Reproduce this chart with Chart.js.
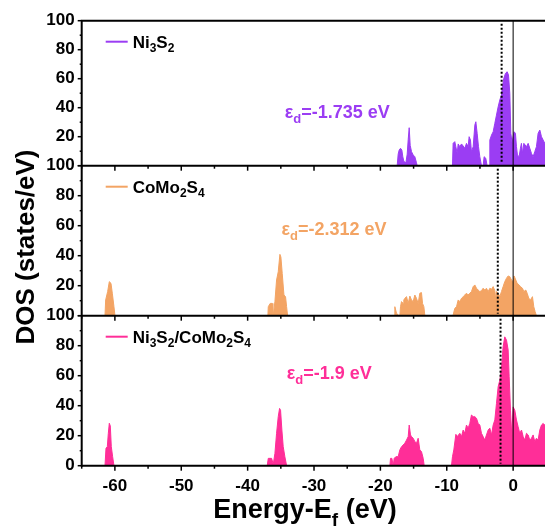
<!DOCTYPE html>
<html>
<head>
<meta charset="utf-8">
<script src="https://cdn.jsdelivr.net/npm/chart.js@4.4.1/dist/chart.umd.min.js"></script>
<style>
  html, body { margin: 0; padding: 0; background: #fff; overflow: hidden; }
  canvas { display: block; }
</style>
</head>
<body>
<canvas id="dos" width="545" height="527"></canvas>
<script>
// ---- data: d-band density of states (states/eV) vs. E - Ef (eV) ----
const seriesNames = ['Ni_3S_2', 'CoMo_2S_4', 'Ni_3S_2/CoMo_2S_4'];
const seriesColors = ['#9b3df3', '#f3a464', '#ff2e98'];
const dBandCenters = [-1.735, -2.312, -1.9];
const dBandLabels = ['ε_d=-1.735 eV', 'ε_d=-2.312 eV', 'ε_d=-1.9 eV'];

const xTickValues = [-60, -50, -40, -30, -20, -10, 0];
const yTickValues = [0, 20, 40, 60, 80, 100];

const ni3s2Energy = [
  -17.47, -17.32, -17.17, -16.97, -16.77, -16.62, -16.47, -16.16, -15.96, -15.81,
  -15.66, -15.51, -15.31, -15.06, -14.81, -14.56, -14.46,
  -9.14, -9.04, -8.79, -8.63, -8.43, -8.28, -8.03, -7.78, -7.53, -7.28,
  -7.03, -6.78, -6.63, -6.43, -6.28, -6.02, -5.77, -5.62, -5.42, -5.22,
  -5.02, -4.77, -4.52, -4.37, -4.12, -3.92,
  -3.61, -3.51, -3.26, -3.01, -2.76, -2.51, -2.26, -2.01, -1.76, -1.61,
  -1.41, -1.15, -0.90, -0.70, -0.50, -0.35, -0.15, 0.00, 0.15, 0.35,
  0.50, 0.65, 0.90, 1.10, 1.25, 1.41, 1.61, 1.81, 2.01, 2.26,
  2.51, 2.76, 3.01, 3.26, 3.51, 3.76, 4.02, 4.27, 4.52, 4.77, 5.00
];
const ni3s2Dos = [
  0, 8, 10.8, 12, 10.8, 6.2, 3, 2, 8, 18,
  26.2, 14, 9.7, 7.4, 6.2, 2, 0,
  0, 15.4, 16.6, 13.1, 8.5, 15.0, 13.1, 15.0, 13.6, 12.0,
  15.4, 13.1, 20.0, 17.7, 9.7, 13.1, 28.0, 30.3, 22.3, 13.1,
  6.2, 0, 0, 6.2, 5.1, 0,
  0, 17.7, 21.1, 23.4, 29.2, 34.9, 40.6, 45.3, 48.7, 54.5,
  60.2, 63.7, 64.8, 62.6, 49.9, 22.3, 15.4, 20.0, 23.4, 22.3,
  13.1, 7.4, 6.2, 12.0, 15.4, 8.5, 15.4, 14.3, 13.1, 15.4,
  12.0, 8.5, 6.2, 9.7, 13.1, 22.3, 24.6, 20.0, 17.7, 15.4, 14.0
];

const como2s4Energy = [
  -61.49, -61.39, -61.09, -60.84, -60.59, -60.39, -60.14, -59.99,
  -36.95, -36.89, -36.60, -36.29, -36.20, -36.14, -35.89, -35.64, -35.39, -35.14,
  -34.99, -34.79, -34.53, -34.29, -34.13, -33.98,
  -17.90, -17.82, -17.57, -17.20, -17.07, -16.97, -16.82, -16.57, -16.47, -16.32,
  -16.06, -15.81, -15.56, -15.31, -15.06, -14.81, -14.56, -14.31, -14.06, -13.81,
  -13.65, -13.45, -13.30,
  -9.10, -9.04, -8.79, -8.53, -8.28, -8.03, -7.78, -7.53, -7.28, -7.03,
  -6.78, -6.53, -6.28, -6.02, -5.77, -5.52, -5.27, -5.02, -4.77, -4.52,
  -4.27, -4.02, -3.76, -3.51, -3.26, -3.01, -2.76, -2.61, -2.51, -2.26,
  -2.01, -1.76, -1.51, -1.26, -1.00, -0.75, -0.50, -0.25, 0.00, 0.15,
  0.40, 0.60, 0.90, 1.10, 1.41, 1.61, 1.91, 2.11, 2.36, 2.61,
  2.91, 3.11, 3.31, 3.51
];
const como2s4Dos = [
  0, 10.5, 16.1, 22.7, 21.6, 15.0, 6.0, 0,
  0, 6.0, 8.2, 8.2, 0, 0, 9.4, 23.8, 29.3, 40.9,
  39.1, 28.2, 13.8, 12.7, 6.0, 0,
  0, 6.0, 1.6, 0, 0, 6.0, 9.4, 8.2, 10.5, 11.6,
  12.7, 8.2, 13.1, 10.5, 9.4, 13.8, 11.6, 8.2, 15.0, 15.4,
  8.2, 6.0, 0,
  0, 0.5, 4.9, 6.0, 10.5, 9.4, 11.6, 12.7, 13.8, 15.0,
  13.8, 15.0, 16.1, 19.4, 20.5, 18.3, 17.1, 16.1, 16.7, 18.3,
  17.1, 18.3, 16.1, 18.3, 17.6, 19.4, 16.7, 10.5, 16.1, 15.0,
  12.7, 16.1, 19.4, 22.7, 25.0, 26.5, 26.0, 23.8, 22.7, 26.5,
  23.8, 21.6, 20.5, 19.4, 18.3, 16.1, 17.1, 15.0, 11.6, 10.5,
  12.7, 6.0, 2.7, 0
];

const heteroEnergy = [
  -61.49, -61.34, -61.14, -60.99, -60.84, -60.69, -60.54, -60.34, -60.14,
  -37.05, -36.89, -36.39, -36.14, -35.89, -35.64, -35.39, -35.19, -35.04, -34.84,
  -34.64, -34.39, -34.13,
  -18.57, -18.47, -18.27, -18.07, -17.92, -17.67, -17.32, -17.07, -16.82, -16.57,
  -16.32, -16.06, -15.81, -15.66, -15.46, -15.31, -15.06, -14.81, -14.56, -14.31,
  -14.06, -13.81, -13.55, -13.40,
  -9.29, -9.14, -8.94, -8.63, -8.43, -8.23, -8.03, -7.78, -7.53, -7.28,
  -7.03, -6.78, -6.53, -6.28, -6.02, -5.77, -5.52, -5.27, -5.02, -4.77,
  -4.52, -4.27, -4.02, -3.76, -3.51, -3.26, -3.01, -2.76, -2.51, -2.26,
  -2.01, -1.76, -1.51, -1.26, -1.00, -0.75, -0.60, -0.40, -0.20, 0.00,
  0.25, 0.50, 0.75, 1.00, 1.26, 1.51, 1.76, 2.01, 2.26, 2.51,
  2.76, 3.01, 3.26, 3.51, 3.76, 4.02, 4.27, 4.52, 4.77, 5.00
];
const heteroDos = [
  0, 11.6, 12.7, 21.6, 28.3, 26.5, 12.7, 6.0, 0,
  0, 4.9, 4.9, 1.0, 8.2, 21.6, 32.7, 38.2, 37.0, 23.8,
  12.7, 6.0, 0,
  0, 4.9, 4.9, 0, 4.9, 6.0, 6.0, 10.5, 12.7, 13.8,
  15.0, 17.1, 19.4, 27.1, 20.5, 19.4, 18.3, 16.1, 15.0, 18.3,
  10.5, 9.4, 4.9, 0,
  0, 6.0, 10.5, 20.9, 19.4, 20.5, 21.6, 19.4, 23.8, 21.6,
  27.1, 25.0, 28.2, 33.8, 32.7, 32.7, 31.6, 28.2, 27.1, 21.6,
  19.4, 17.1, 20.5, 23.8, 25.0, 20.5, 27.1, 30.5, 41.5, 52.6,
  57.0, 64.9, 79.3, 85.9, 83.7, 77.1, 59.3, 37.0, 19.4, 39.2,
  37.0, 30.5, 26.0, 21.6, 23.8, 19.4, 17.1, 21.6, 20.5, 17.1,
  18.3, 20.5, 16.1, 18.3, 17.1, 23.8, 27.1, 28.2, 27.1, 25.0
];

// ---- chart construction ----
const FONT = '"Liberation Sans", Arial, Helvetica, sans-serif';
const panelAxes = ['yTop', 'yMid', 'yBot'];
const energies = [ni3s2Energy, como2s4Energy, heteroEnergy];
const dosValues = [ni3s2Dos, como2s4Dos, heteroDos];

function toPoints(xs, ys) {
  return xs.map((x, i) => ({ x: x, y: ys[i] }));
}

// draws text where "_c" puts character c as a subscript
function drawRich(ctx, text, x, y, size, color, align) {
  const parts = [];
  for (let i = 0; i < text.length; i++) {
    if (text[i] === '_') { parts.push({ t: text[i + 1], sub: true }); i++; }
    else if (parts.length && !parts[parts.length - 1].sub) parts[parts.length - 1].t += text[i];
    else parts.push({ t: text[i], sub: false });
  }
  const subSize = Math.round(size * 0.7);
  let total = 0;
  parts.forEach(p => {
    ctx.font = 'bold ' + (p.sub ? subSize : size) + 'px ' + FONT;
    p.w = ctx.measureText(p.t).width;
    total += p.w;
  });
  let cx = align === 'center' ? x - total / 2 : x;
  ctx.fillStyle = color;
  ctx.textAlign = 'left';
  ctx.textBaseline = 'alphabetic';
  parts.forEach(p => {
    ctx.font = 'bold ' + (p.sub ? subSize : size) + 'px ' + FONT;
    ctx.fillText(p.t, cx, p.sub ? y + size * 0.28 : y);
    cx += p.w;
  });
}

const panelDecor = {
  id: 'panelDecor',
  afterDatasetsDraw(chart) {
    const { ctx, chartArea } = chart;
    const xs = chart.scales.x;
    const left = chartArea.left, right = chartArea.right;
    ctx.save();

    // Fermi level
    const x0 = xs.getPixelForValue(0);
    ctx.strokeStyle = '#000';
    ctx.lineWidth = 1;
    ctx.beginPath();
    ctx.moveTo(x0, chartArea.top);
    ctx.lineTo(x0, chartArea.bottom);
    ctx.stroke();

    panelAxes.forEach((id, i) => {
      const ys = chart.scales[id];
      // d-band centre
      const xd = xs.getPixelForValue(dBandCenters[i]);
      ctx.setLineDash([2, 2]);
      ctx.lineWidth = 2;
      ctx.strokeStyle = '#000';
      ctx.beginPath();
      ctx.moveTo(xd, ys.top + 3);
      ctx.lineTo(xd, ys.bottom - 2);
      ctx.stroke();
      ctx.setLineDash([]);

      // panel bottom axis and x tick marks
      ctx.lineWidth = 2;
      ctx.beginPath();
      ctx.moveTo(left, ys.bottom);
      ctx.lineTo(right, ys.bottom);
      ctx.stroke();
      ctx.lineWidth = 1.5;
      for (let e = -65; e <= 5; e += 5) {
        const px = xs.getPixelForValue(e);
        if (px < left - 0.5 || px > right) continue;
        const len = e % 10 === 0 ? 5 : 3;
        ctx.beginPath();
        ctx.moveTo(px, ys.bottom);
        ctx.lineTo(px, ys.bottom + len);
        ctx.stroke();
      }
      // y tick marks
      for (let v = 0; v <= 100; v += 10) {
        const py = ys.getPixelForValue(v);
        const len = v % 20 === 0 ? 4 : 2;
        ctx.beginPath();
        ctx.moveTo(left, py);
        ctx.lineTo(left - len, py);
        ctx.stroke();
      }

      // legend entry
      const ly = ys.top + 21;
      ctx.strokeStyle = seriesColors[i];
      ctx.lineWidth = 2;
      ctx.beginPath();
      ctx.moveTo(left + 24, ly);
      ctx.lineTo(left + 46, ly);
      ctx.stroke();
      drawRich(ctx, seriesNames[i], left + 51, ly + 6, 17, '#000');
      ctx.strokeStyle = '#000';
    });

    // frame: top edge and left axis
    ctx.lineWidth = 2;
    ctx.beginPath();
    ctx.moveTo(left, chartArea.top);
    ctx.lineTo(right, chartArea.top);
    ctx.moveTo(left, chartArea.top - 1);
    ctx.lineTo(left, chartArea.bottom + 1);
    ctx.stroke();

    // d-band centre labels
    const labelPos = [[-34.4, 37.2], [-34.9, 57.8], [-34.1, 61.8]];
    panelAxes.forEach((id, i) => {
      const ys = chart.scales[id];
      drawRich(ctx, dBandLabels[i], xs.getPixelForValue(labelPos[i][0]),
        ys.getPixelForValue(labelPos[i][1]) + 6, 18, seriesColors[i]);
    });

    // axis titles
    drawRich(ctx, 'Energy-E_f (eV)', 305, 518, 27, '#000', 'center');
    ctx.save();
    ctx.translate(25, 247);
    ctx.rotate(-Math.PI / 2);
    drawRich(ctx, 'DOS (states/eV)', 0, 9, 26, '#000', 'center');
    ctx.restore();

    ctx.restore();
  }
};

function yAxis(weight, hideZero) {
  return {
    type: 'linear',
    position: 'left',
    stack: 'dos',
    stackWeight: weight,
    min: 0,
    max: 100,
    afterBuildTicks: s => { s.ticks = yTickValues.map(v => ({ value: v })); },
    afterFit: s => { s.width = 81.7; },
    grid: { display: false, drawTicks: false },
    border: { display: false },
    ticks: {
      padding: 7,
      autoSkip: false,
      color: '#000',
      font: { family: FONT, size: 17, weight: 'bold' },
      callback: v => (hideZero && v === 0 ? '' : String(v))
    }
  };
}

// left-stacked axes are laid out from the last defined one downwards,
// so the bottom panel's axis is declared first
new Chart(document.getElementById('dos'), {
  type: 'line',
  data: {
    datasets: seriesNames.map((name, i) => ({
      label: name,
      data: toPoints(energies[i], dosValues[i]),
      yAxisID: panelAxes[i],
      borderColor: seriesColors[i],
      backgroundColor: seriesColors[i],
      borderWidth: 1,
      pointRadius: 0,
      tension: 0,
      fill: 'origin'
    }))
  },
  options: {
    responsive: false,
    animation: false,
    layout: { padding: { top: 20.7, left: 0, right: 0, bottom: 0 } },
    plugins: { legend: { display: false }, tooltip: { enabled: false } },
    scales: {
      x: {
        type: 'linear',
        min: -65,
        max: 4.8,
        afterBuildTicks: s => { s.ticks = xTickValues.map(v => ({ value: v })); },
        afterFit: s => { s.height = 61.3; },
        grid: { display: false, drawTicks: false },
        border: { display: false },
        ticks: {
          padding: 10,
          maxRotation: 0,
          minRotation: 0,
          autoSkip: false,
          color: '#000',
          font: { family: FONT, size: 17, weight: 'bold' }
        }
      },
      yBot: yAxis(150, false),
      yMid: yAxis(150, true),
      yTop: yAxis(145, true)
    }
  },
  plugins: [panelDecor]
});
</script>
</body>
</html>
